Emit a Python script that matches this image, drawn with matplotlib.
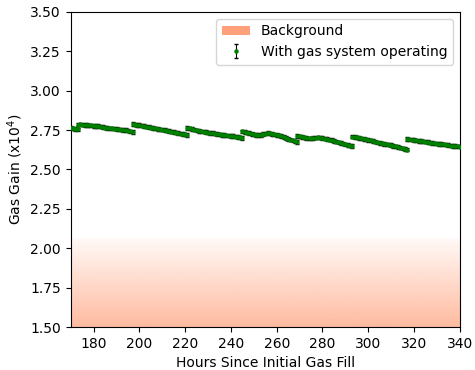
import numpy as np
import matplotlib.pyplot as plt
from matplotlib.patches import Patch
from matplotlib.colors import to_rgba

# ----------- DATA -----------
# start hour of each fill cycle, then hourly gain readings (x10^4)
seg_starts = [169, 173, 197, 221, 245, 269, 293, 317]

seg_gain = [
    [2.768, 2.764, 2.760, 2.757, 2.754],
    [2.785, 2.786, 2.784, 2.783, 2.782, 2.780, 2.779, 2.777, 2.776, 2.775,
     2.772, 2.768, 2.765, 2.763, 2.761, 2.760, 2.759, 2.757, 2.755, 2.752,
     2.750, 2.749, 2.746, 2.742, 2.738],
    [2.787, 2.785, 2.783, 2.781, 2.778, 2.775, 2.772, 2.768, 2.766, 2.763,
     2.760, 2.757, 2.755, 2.752, 2.750, 2.747, 2.744, 2.740, 2.737, 2.734,
     2.731, 2.728, 2.726, 2.723, 2.720],
    [2.762, 2.760, 2.756, 2.752, 2.748, 2.745, 2.742, 2.740, 2.737, 2.734,
     2.731, 2.730, 2.728, 2.726, 2.722, 2.720, 2.718, 2.716, 2.714, 2.713,
     2.711, 2.709, 2.706, 2.703, 2.700],
    [2.742, 2.738, 2.734, 2.730, 2.726, 2.722, 2.720, 2.719, 2.720, 2.724,
     2.728, 2.730, 2.729, 2.726, 2.722, 2.719, 2.716, 2.712, 2.707, 2.700,
     2.694, 2.689, 2.684, 2.679, 2.675],
    [2.712, 2.710, 2.707, 2.704, 2.701, 2.698, 2.697, 2.699, 2.702, 2.704,
     2.702, 2.699, 2.696, 2.693, 2.690, 2.686, 2.682, 2.677, 2.672, 2.668,
     2.664, 2.660, 2.656, 2.652, 2.648],
    [2.708, 2.706, 2.703, 2.700, 2.697, 2.694, 2.691, 2.688, 2.684, 2.680,
     2.676, 2.672, 2.669, 2.666, 2.663, 2.660, 2.657, 2.654, 2.650, 2.646,
     2.642, 2.638, 2.634, 2.630, 2.626],
    [2.692, 2.691, 2.690, 2.688, 2.685, 2.682, 2.680, 2.678, 2.676, 2.673,
     2.670, 2.668, 2.666, 2.664, 2.662, 2.661, 2.659, 2.657, 2.655, 2.652,
     2.650, 2.648, 2.646, 2.644],
]
gain_err = 0.011

background_top = 2.06

hours = np.concatenate([s + np.arange(len(g)) for s, g in zip(seg_starts, seg_gain)])
gain = np.concatenate(seg_gain)

# ----------- PLOT -----------
fig = plt.figure(figsize=(4.75, 3.7), dpi=100)
ax = fig.add_axes([0.149, 0.116, 0.819, 0.852])

# background band: salmon fading to white
n = 256
grad = np.zeros((n, 1, 4))
grad[:, 0, :3] = to_rgba("lightsalmon")[:3]
grad[:, 0, 3] = np.linspace(0.06, 0.72, n)
ax.imshow(grad, extent=[170, 340, 1.5, background_top], aspect="auto",
          origin="upper", zorder=0)

eb = ax.errorbar(hours, gain, yerr=gain_err, fmt=".", color="green",
                 ecolor="black", elinewidth=0.8, capsize=1.5, markersize=4.5,
                 label="With gas system operating", zorder=3)

handles = [Patch(facecolor="lightsalmon", label="Background"), eb]
ax.legend(handles=handles, loc="upper right")

ax.set_xlim(170, 340)
ax.set_ylim(1.5, 3.5)
ax.set_xticks(np.arange(180, 341, 20))
ax.set_yticks(np.arange(1.5, 3.51, 0.25))
ax.set_xlabel("Hours Since Initial Gas Fill")
ax.set_ylabel("Gas Gain (x10$^4$)")

fig.savefig("out.png", dpi=100)
